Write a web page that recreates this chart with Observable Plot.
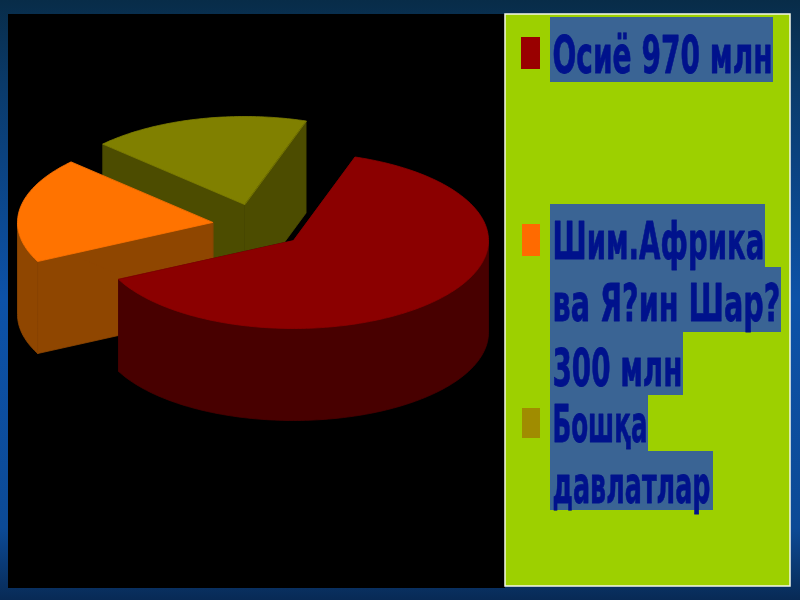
<!DOCTYPE html>
<html>
<head>
<meta charset="utf-8">
<script src="https://cdn.jsdelivr.net/npm/d3@7"></script>
<script src="https://cdn.jsdelivr.net/npm/@observablehq/plot@0.6"></script>
<style>
html,body{margin:0;padding:0;width:800px;height:600px;overflow:hidden;
background:linear-gradient(180deg,#082c48 0%,#0a3a6a 14%,#0d52a8 50%,#0c4a96 88%,#082a55 100%);}
svg{display:block;background:transparent;filter:blur(.5px);}
</style>
</head>
<body>
<div id="chart"></div>
<script>
// Data (the third value is not labelled: estimated from its angle)
const categories = ["Осиё", "Шим.Африка ва Я?ин Шар?", "Бошқа давлатлар"];
const values = [970, 300, 280];
const topColors = ["#8b0000", "#ff7300", "#808000"];
const wallColors = ["#480000", "#8f4600", "#4c4c00"];
const swatchColors = ["#990000", "#ff6a00", "#a08c00"];
const legendLines = ["Осиё 970 млн", "Шим.Африка", "ва Я?ин Шар?", "300 млн", "Бошқа", "давлатлар"];

// Chart geometry
const rx = 195, ry = 88, depth = 92, startDeg = 18.4;
const centers = [[293, 240], [212, 222], [244, 204]];
const drawOrder = [2, 1, 0];
const TAU = 2 * Math.PI;
const slices = d3.pie().sort(null).value(d => d)
  .startAngle(startDeg * Math.PI / 180)
  .endAngle(startDeg * Math.PI / 180 + TAU)(values);

const polys = [];
let pid = 0;
function addPoly(pts, fill) {
  const id = pid++;
  pts.forEach(([x, y]) => polys.push({x, y, id, fill}));
}
function rim(c, a) { return [c[0] + rx * Math.sin(a), c[1] - ry * Math.cos(a)]; }
function arcPts(c, a0, a1) {
  const n = Math.max(2, Math.ceil(Math.abs(a1 - a0) / 0.02));
  return d3.range(n + 1).map(i => rim(c, a0 + (a1 - a0) * i / n));
}
for (const i of drawOrder) {
  const s = slices[i], c = centers[i];
  const wall = wallColors[i];
  for (const a of [s.startAngle, s.endAngle]) {
    const p = rim(c, a);
    addPoly([c, p, [p[0], p[1] + depth], [c[0], c[1] + depth]], wall);
  }
  for (const k of [0, 1]) {
    const lo = Math.max(s.startAngle, Math.PI / 2 + k * TAU);
    const hi = Math.min(s.endAngle, 3 * Math.PI / 2 + k * TAU);
    if (hi > lo) {
      const a = arcPts(c, lo, hi);
      addPoly([...a, ...a.slice().reverse().map(([x, y]) => [x, y + depth])], wall);
    }
  }
  addPoly([c, ...arcPts(c, s.startAngle, s.endAngle)], topColors[i]);
}

// Layout
const backdrop = [
  {x1: 8, x2: 505, y1: 14, y2: 588, fill: "#000000"},
  {x1: 505, x2: 790, y1: 14, y2: 586, fill: "#9dd000"}
];
const highlightBoxes = [
  [550, 773, 17, 82], [550, 765, 204, 267], [550, 781, 267, 332],
  [550, 683, 332, 395], [550, 648, 395, 451], [550, 713, 451, 510]
].map(([x1, x2, y1, y2]) => ({x1, x2, y1, y2}));
const textPlace = [[552, 72, 220], [552, 258, 212], [552, 320, 228], [552, 385, 130], [552, 441, 95], [552, 502, 158]];
const swatchBoxes = [[521, 540, 37, 69], [522, 540, 224, 256], [522, 540, 408, 438]];

const labels = legendLines.map((t, i) => ({t, x: textPlace[i][0], y: textPlace[i][1]}));
const swatches = swatchBoxes.map(([x1, x2, y1, y2], i) => ({x1, x2, y1, y2, fill: swatchColors[i]}));
const baseFont = 33, stretchY = 1.58;

const svg = Plot.plot({
  width: 800, height: 600,
  margin: 0,
  style: {background: "transparent"},
  x: {domain: [0, 800], range: [0, 800], axis: null},
  y: {domain: [0, 600], range: [0, 600], axis: null},
  color: {type: "identity"},
  marks: [
    Plot.rect(backdrop, {x1: "x1", x2: "x2", y1: "y1", y2: "y2", fill: "fill"}),
    Plot.rect([backdrop[1]], {x1: "x1", x2: "x2", y1: "y1", y2: "y2", fill: "none", stroke: "#f4f8e8", strokeWidth: 1.5}),
    Plot.line(polys, {x: "x", y: "y", z: "id", fill: "fill", stroke: "fill", strokeWidth: 0.8, curve: "linear-closed"}),
    Plot.rect(highlightBoxes, {x1: "x1", x2: "x2", y1: "y1", y2: "y2", fill: "#3a6494"}),
    Plot.rect(swatches, {x1: "x1", x2: "x2", y1: "y1", y2: "y2", fill: "fill"}),
    Plot.text(labels, {
      x: "x", y: "y", text: "t", textAnchor: "start", lineAnchor: "bottom",
      fontFamily: "DejaVu Sans", fontWeight: "bold", fontSize: baseFont,
      fill: "#00128c", stroke: "#00128c", strokeWidth: 0.5
    })
  ]
});
document.getElementById("chart").appendChild(svg);
svg.querySelectorAll('g[aria-label="text"] text').forEach((el, i) => {
  el.setAttribute("dy", "0");
  el.setAttribute("y", "0");
  el.setAttribute("x", "0");
  const natural = el.getComputedTextLength();
  const sx = textPlace[i][2] / natural;
  el.setAttribute("transform", `translate(${textPlace[i][0]},${textPlace[i][1]}) scale(${sx.toFixed(3)},${stretchY})`);
});
</script>
</body>
</html>
